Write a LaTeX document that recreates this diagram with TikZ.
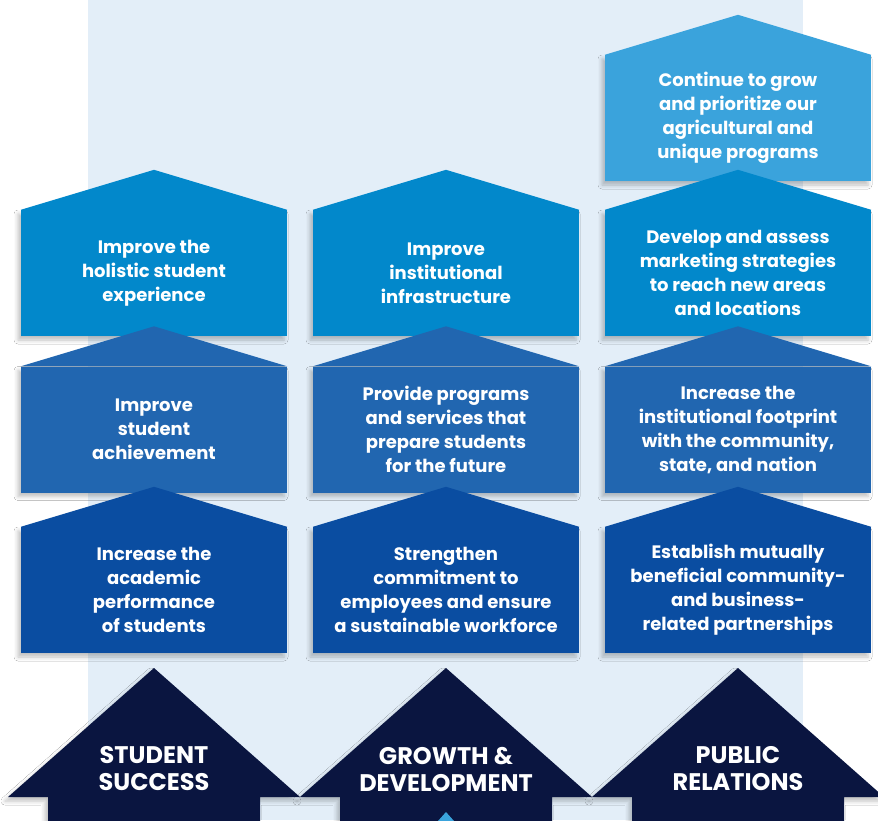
\documentclass[tikz,border=0pt]{standalone}
\usepackage{fontspec}
\setmainfont{Poppins}
\usetikzlibrary{positioning}
\usetikzlibrary{shadows.blur}

\definecolor{paleblue}{HTML}{E3EEF8}
\definecolor{topblue}{HTML}{3AA3DC}
\definecolor{rowa}{HTML}{0288CB}
\definecolor{rowb}{HTML}{2166B0}
\definecolor{rowc}{HTML}{0A4DA1}
\definecolor{navy}{HTML}{0A1540}

\begin{document}
\begin{tikzpicture}
		[x=1pt, y=-1pt, node distance={292pt},
		soft/.style = {blur shadow={shadow xshift=-3pt, shadow yshift=-4pt, shadow blur radius=4pt, shadow opacity=25}},
		roof/.style = {append after command={\pgfextra{\let\roofnode\tikzlastnode
			\fill[#1] (\roofnode.north west) -- ([yshift=40pt]\roofnode.north) -- (\roofnode.north east) -- cycle;}}},
		goal/.style = {fill=#1, soft, roof=#1, text=white, align=center, inner sep=0pt,
			minimum width=266pt, minimum height=126pt, font=\fontsize{18}{24}\selectfont\bfseries},
		pillar/.style = {fill=navy, soft},
		head/.style = {text=white, align=center, font=\fontsize{24}{27}\selectfont\bfseries}]
	\useasboundingbox (0,0) rectangle (878,820);
	\fill[white] (0,0) rectangle (878,820);
	\fill[paleblue] (88,0) rectangle (803,820);
	% student success
	\node[goal=rowa] (stu3) at (154,273) {Improve the\\holistic student\\experience};
	\node[goal=rowb] (stu2) [below of = stu3, node distance=156.5pt] {Improve\\student\\achievement};
	\node[goal=rowc] (stu1) [below of = stu2, node distance=160.5pt] {Increase the\\academic\\performance\\of students};
	% growth and development
	\node[goal=rowa] (grw3) [right of = stu3] {Improve\\institutional\\infrastructure};
	\node[goal=rowb] (grw2) [right of = stu2] {Provide programs\\and services that\\prepare students\\for the future};
	\node[goal=rowc] (grw1) [right of = stu1] {Strengthen\\commitment to\\employees and ensure\\a sustainable workforce};
	% public relations
	\node[goal=topblue] (pub4) at (738,118) {Continue to grow\\and prioritize our\\agricultural and\\unique programs};
	\node[goal=rowa] (pub3) [right of = grw3] {Develop and assess\\marketing strategies\\to reach new areas\\and locations};
	\node[goal=rowb] (pub2) [right of = grw2] {Increase the\\institutional footprint\\with the community,\\state, and nation};
	\node[goal=rowc] (pub1) [right of = grw1] {Establish mutually\\beneficial community-\\and business-\\related partnerships};
	% pillars
	\coordinate (stutip) at (154,668);
	\coordinate (grwtip) at (446,668);
	\coordinate (pubtip) at (738,668);
	\fill[pillar] (stutip) -- ++(146,129) -- ++(-40,0) -- ++(0,30) -- ++(-212,0) -- ++(0,-30) -- ++(-40,0) -- cycle;
	\fill[pillar] (grwtip) -- ++(146,129) -- ++(-40,0) -- ++(0,30) -- ++(-212,0) -- ++(0,-30) -- ++(-40,0) -- cycle;
	\fill[pillar] (pubtip) -- ++(146,129) -- ++(-40,0) -- ++(0,30) -- ++(-212,0) -- ++(0,-30) -- ++(-40,0) -- cycle;
	\fill[topblue] (446,812) -- (454,821) -- (438,821) -- cycle;
	\node[head] (stulbl) at (154,769) {STUDENT\\SUCCESS};
	\node[head] (grwlbl) at (446,769) {GROWTH \&\\DEVELOPMENT};
	\node[head] (publbl) at (738,769) {PUBLIC\\RELATIONS};
\end{tikzpicture}
\end{document}
